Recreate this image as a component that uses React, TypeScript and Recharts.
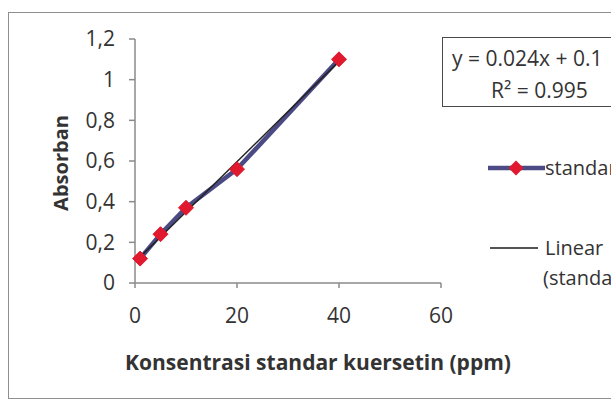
import { ComposedChart, Line, XAxis, YAxis } from "recharts"

// standard curve readings (ppm -> absorbance)
const konsentrasi = [1, 5, 10, 20, 40]
const absorban = [0.12, 0.24, 0.37, 0.56, 1.1]
// trendline ends as seen on the chart
const trendX = [1, 40]
const trendY = [0.128, 1.09]
const xTicks = [0, 20, 40, 60]
const yTicks = [0, 0.2, 0.4, 0.6, 0.8, 1, 1.2]

const seriesData = konsentrasi.map((x, i) => ({ x, y: absorban[i] }))
const trendData = trendX.map((x, i) => ({ x, y: trendY[i] }))

const FONT = "'Open Sans', sans-serif"
const TEXT = "#333333"
const AXIS = "#8a8a8a"
const SERIES = "#4b4a85"
const MARKER = "#e0192e"

const Diamond = (props: any) => {
  const { cx, cy } = props
  if (cx == null || cy == null) return null
  const r = 7.5
  return (
    <polygon
      points={`${cx},${cy - r} ${cx + r},${cy} ${cx},${cy + r} ${cx - r},${cy}`}
      fill={MARKER}
      stroke={MARKER}
      strokeWidth={1}
    />
  )
}

const fmtY = (v: number) => String(Math.round(v * 10) / 10).replace(".", ",")

function LegendBox() {
  return (
    <div style={{ fontFamily: FONT, fontSize: 20, color: TEXT, lineHeight: "30px" }}>
      <div style={{ display: "flex", alignItems: "center", height: 30 }}>
        <svg width={57} height={20}>
          <line x1={0} y1={10} x2={57} y2={10} stroke={SERIES} strokeWidth={4.5} />
          <polygon points="28,2.5 35.5,10 28,17.5 20.5,10" fill={MARKER} />
        </svg>
        <span style={{ whiteSpace: "nowrap" }}>standar</span>
      </div>
      <div style={{ display: "flex", alignItems: "center", height: 30, marginTop: 50 }}>
        <svg width={57} height={20}>
          <line x1={2} y1={10} x2={50} y2={10} stroke="#1c1c1c" strokeWidth={1.5} />
        </svg>
        <span style={{ whiteSpace: "nowrap" }}>Linear</span>
      </div>
      <div style={{ paddingLeft: 55, whiteSpace: "nowrap" }}>(standar)</div>
    </div>
  )
}

export default function App() {
  return (
    <div
      style={{
        position: "absolute",
        left: 0,
        top: 0,
        width: 611,
        height: 401,
        overflow: "hidden",
        background: "#fff",
      }}
    >
      <div
        style={{
          position: "absolute",
          left: 8,
          top: 12,
          width: 640,
          height: 385,
          border: "1.5px solid #8f8f8f",
        }}
      />
      <div style={{ position: "absolute", left: 0, top: 0 }}>
        <ComposedChart
          width={611}
          height={401}
          margin={{ top: 39, right: 170, bottom: 88, left: 0 }}
        >
          <XAxis
            type="number"
            dataKey="x"
            domain={[0, 60]}
            ticks={xTicks}
            interval={0}
            allowDuplicatedCategory={false}
            height={30}
            stroke={AXIS}
            strokeWidth={1.5}
            tickSize={5}
            tickMargin={20}
            tick={{ fill: TEXT, fontSize: 21, fontFamily: FONT }}
          />
          <YAxis
            type="number"
            dataKey="y"
            domain={[0, 1.2]}
            ticks={yTicks}
            interval={0}
            width={135}
            stroke={AXIS}
            strokeWidth={1.5}
            tickSize={6}
            tickMargin={14}
            tickFormatter={fmtY}
            tick={{ fill: TEXT, fontSize: 21, fontFamily: FONT }}
          />
          <Line
            data={seriesData}
            dataKey="y"
            name="standar"
            stroke={SERIES}
            strokeWidth={4.5}
            dot={<Diamond />}
            activeDot={false}
            isAnimationActive={false}
          />
          <Line
            data={trendData}
            dataKey="y"
            name="Linear (standar)"
            stroke="#222222"
            strokeWidth={1.5}
            dot={false}
            activeDot={false}
            isAnimationActive={false}
          />
          <text
            x={60}
            y={163}
            transform="rotate(-90 60 163)"
            textAnchor="middle"
            dominantBaseline="central"
            fontFamily={FONT}
            fontWeight="bold"
            fontSize={20}
            fill={TEXT}
          >
            Absorban
          </text>
          <text
            x={318}
            y={362}
            textAnchor="middle"
            dominantBaseline="central"
            fontFamily={FONT}
            fontWeight="bold"
            fontSize={21}
            fill={TEXT}
          >
            Konsentrasi standar kuersetin (ppm)
          </text>
        </ComposedChart>
      </div>
      <div style={{ position: "absolute", left: 488, top: 153 }}>
        <LegendBox />
      </div>
      <div
        style={{
          position: "absolute",
          left: 442,
          top: 37,
          width: 220,
          height: 68,
          border: "1.5px solid #4a4a4a",
          fontFamily: FONT,
          fontSize: 21,
          color: TEXT,
        }}
      >
        <div style={{ position: "absolute", left: 9, top: 6, whiteSpace: "nowrap" }}>
          y = 0.024x + 0.1
        </div>
        <div style={{ position: "absolute", left: 48, top: 38, whiteSpace: "nowrap" }}>
          R² = 0.995
        </div>
      </div>
    </div>
  )
}
